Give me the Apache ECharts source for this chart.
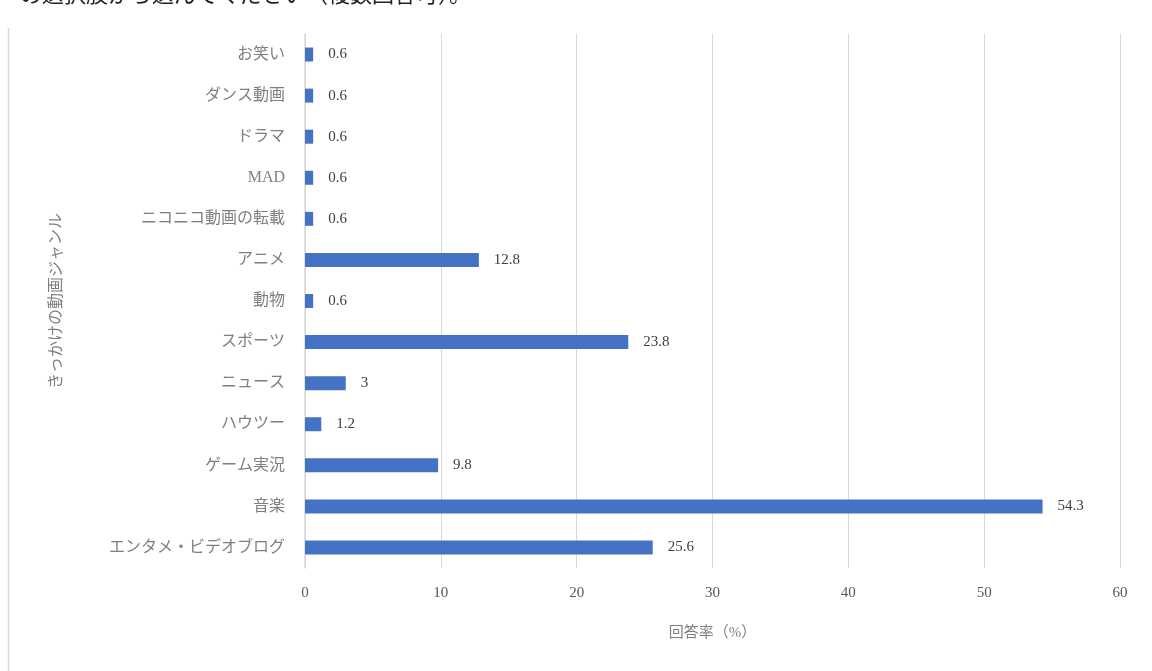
<!DOCTYPE html>
<html><head><meta charset="utf-8">
<script src="https://cdn.jsdelivr.net/npm/echarts@6/dist/echarts.min.js"></script>
<style>html,body{margin:0;padding:0;background:#fff;}#c{width:1152px;height:671px;}</style>
</head><body><div id="c"></div>
<script>
const categories = ["エンタメ・ビデオブログ","音楽","ゲーム実況","ハウツー","ニュース","スポーツ","動物","アニメ","ニコニコ動画の転載","MAD","ドラマ","ダンス動画","お笑い"];
const values = [25.6,54.3,9.8,1.2,3,23.8,0.6,12.8,0.6,0.6,0.6,0.6,0.6];
const xTicks = [0,10,20,30,40,50,60];
const headerText = "の選択肢から選んでください（複数回答可）。";
const xTitle = "回答率（%）";
const yTitle = "きっかけの動画ジャンル";

const chart = echarts.init(document.getElementById('c'));
const serif = '"Liberation Serif","Noto Sans CJK JP",serif';
chart.setOption({
  animation:false,
  backgroundColor:'#fff',
  graphic:[
    {type:'text',left:20,top:-17,style:{text:headerText,font:'22px "Noto Sans CJK JP"',fill:'#222'}},
    {type:'line',shape:{x1:8.5,y1:28,x2:8.5,y2:671},style:{stroke:'#d9d9d9',lineWidth:1.5}}
  ],
  grid:{left:305,right:32,top:34,bottom:103},
  xAxis:{type:'value',min:xTicks[0],max:xTicks[xTicks.length-1],interval:10,
    name:xTitle,nameLocation:'middle',nameGap:58,
    nameTextStyle:{color:'#7f7f7f',fontSize:15,fontFamily:serif},
    axisLabel:{color:'#595959',fontSize:15,fontFamily:serif,margin:18},
    axisLine:{show:false},axisTick:{show:false},
    splitLine:{lineStyle:{color:'#d9d9d9',width:1}}},
  yAxis:{type:'category',data:categories,
    name:yTitle,nameLocation:'middle',nameGap:240,nameRotate:90,
    nameTextStyle:{color:'#7f7f7f',fontSize:16,fontFamily:serif},
    axisLabel:{color:'#7f7f7f',fontSize:16,fontFamily:serif,margin:20},
    axisLine:{lineStyle:{color:'#d9d9d9',width:1.5}},axisTick:{show:false}},
  series:[{type:'bar',data:values,barWidth:14,
    itemStyle:{color:'#4472C4'},
    label:{show:true,position:'right',distance:15,color:'#404040',fontSize:15,fontFamily:serif}}]
});
</script></body></html>
